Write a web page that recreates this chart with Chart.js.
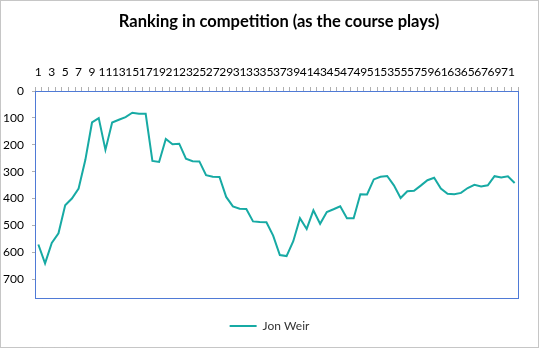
<!DOCTYPE html>
<html>
<head>
<meta charset="utf-8">
<script src="https://cdn.jsdelivr.net/npm/chart.js@4/dist/chart.umd.min.js"></script>
<style>
  html, body { margin: 0; padding: 0; background: #fff; }
  #wrap { width: 539px; height: 348px; position: relative; }
</style>
</head>
<body>
<div id="wrap"><canvas id="rankChart" width="539" height="348"></canvas></div>
<script>
// round number for each hole played (1..72)
const rounds = [];
for (let i = 1; i <= 72; i++) rounds.push(String(i));

// position on the leaderboard after each hole
const jonWeir = [
  571, 641, 565, 529, 425, 400, 363, 257, 117, 101,
  219, 117, 107, 97, 81, 85, 85, 260, 264, 178,
  198, 196, 252, 261, 262, 313, 319, 320, 394, 429,
  438, 439, 485, 487, 488, 538, 610, 614, 559, 473,
  513, 444, 494, 450, 440, 429, 473, 473, 384, 385,
  329, 319, 316, 351, 398, 373, 371, 352, 332, 323,
  363, 382, 384, 379, 361, 349, 355, 351, 317, 322,
  317, 342
];

const yTicks = [0, 100, 200, 300, 400, 500, 600, 700];

const chartTitle = 'Ranking in competition (as the course plays)';
const font = 'Lato, "Open Sans", sans-serif';

// title, dotted frame round the whole chart and blue frame round the plot
const frames = {
  id: 'frames',
  afterDraw(chart) {
    const ctx = chart.ctx;
    const a = chart.chartArea;
    ctx.save();
    ctx.fillStyle = '#000';
    ctx.font = 'bold 16.5px ' + font;
    ctx.textAlign = 'center';
    ctx.textBaseline = 'middle';
    ctx.fillText(chartTitle, 279, 22);
    ctx.strokeStyle = '#8c8c8c';
    ctx.lineWidth = 1;
    ctx.setLineDash([1, 1]);
    ctx.strokeRect(0.5, 0.5, chart.width - 1, chart.height - 1);
    ctx.strokeStyle = '#4f7ad6';
    ctx.setLineDash([]);
    ctx.strokeRect(Math.round(a.left) + 0.5, Math.round(a.top) + 0.5,
      Math.round(a.right - a.left), Math.round(a.bottom - a.top));
    ctx.restore();
  }
};

// blank band used only to reserve space around the plot
const spacer = (pos, size) => ({
  position: pos,
  type: pos === 'bottom' ? 'category' : 'linear',
  grid: { display: false },
  border: { display: false },
  ticks: { display: false },
  afterFit(scale) {
    if (pos === 'bottom') scale.height = size; else scale.width = size;
  }
});

new Chart(document.getElementById('rankChart').getContext('2d'), {
  type: 'line',
  data: {
    labels: rounds,
    datasets: [{
      label: 'Jon Weir',
      data: jonWeir,
      borderColor: '#17aaa4',
      backgroundColor: '#17aaa4',
      borderWidth: 2,
      pointRadius: 0,
      tension: 0,
      fill: false
    }]
  },
  options: {
    responsive: false,
    animation: false,
    events: [],
    layout: { padding: { left: 0, right: 0, top: 30, bottom: 6 } },
    plugins: {
      title: { display: false },
      legend: {
        position: 'bottom',
        labels: {
          usePointStyle: true,
          pointStyle: 'line',
          pointStyleWidth: 27,
          color: '#333',
          font: { family: font, size: 12 },
          padding: 10
        }
      },
      tooltip: { enabled: false }
    },
    scales: {
      x: {
        position: 'top',
        offset: true,
        grid: { drawOnChartArea: false, tickLength: 4, color: '#b0b0b0', offset: true },
        border: { display: false },
        ticks: {
          autoSkip: false,
          maxRotation: 0,
          padding: 8,
          color: '#000',
          font: { family: font, size: 12 },
          callback: (v, i) => (i % 2 === 0 ? rounds[i] : '')
        },
        afterFit(scale) { scale.height = 61; }
      },
      y: {
        reverse: true,
        min: 0,
        max: 770,
        afterBuildTicks(scale) { scale.ticks = yTicks.map(v => ({ value: v })); },
        grid: { drawOnChartArea: false, tickLength: 3, color: '#b0b0b0' },
        border: { display: false },
        ticks: {
          padding: 8,
          color: '#000',
          font: { family: font, size: 12 }
        },
        afterFit(scale) { scale.width = 35; }
      },
      yRight: spacer('right', 21),
      xBottom: spacer('bottom', 12)
    }
  },
  plugins: [frames]
});
</script>
</body>
</html>
